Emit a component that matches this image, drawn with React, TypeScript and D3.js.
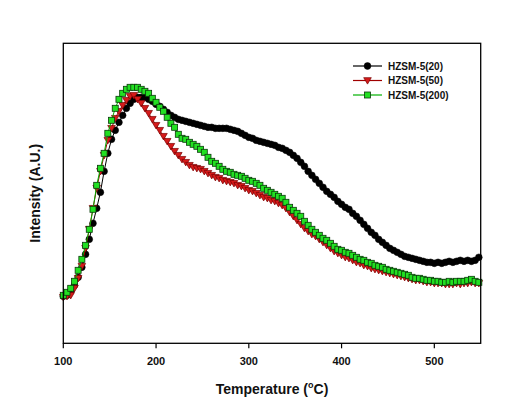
import React, { useEffect, useRef } from "react";
import * as d3 from "d3";

const temperatures: number[] = d3.range(100, 549, 4);

const hzsm20: number[] = [
  47, 48, 52, 58, 66, 76, 89, 104, 120, 135,
  151, 172, 190, 204, 213, 221, 228, 235, 240, 244,
  246, 246, 246, 244, 242, 239, 237, 234, 231, 228,
  226, 224, 223, 222, 221, 220, 219, 218, 217, 216,
  216, 215, 215, 215, 215, 214, 213, 212, 210, 208,
  206, 205, 203, 202, 201, 200, 199, 198, 196, 195,
  193, 191, 188, 185, 181, 177, 172, 168, 164, 160,
  156, 152, 149, 146, 142, 139, 136, 134, 130, 127,
  123, 119, 115, 111, 108, 104, 101, 98, 95, 93,
  91, 89, 87, 86, 85, 84, 83, 82, 81, 81,
  80, 81, 80, 81, 82, 81, 82, 83, 82, 83,
  82, 83, 86,
];

const hzsm50: number[] = [
  46, 47, 48, 55, 65, 77, 95, 114, 135, 155,
  172, 188, 203, 215, 225, 232, 238, 243, 247, 248,
  244, 240, 235, 230, 224, 218, 213, 207, 202, 197,
  192, 188, 184, 181, 178, 176, 175, 174, 172, 170,
  168, 166, 165, 163, 162, 161, 160, 158, 157, 155,
  153, 152, 150, 148, 146, 145, 143, 142, 140, 138,
  135, 131, 127, 123, 119, 115, 112, 109, 107, 104,
  101, 98, 95, 92, 90, 88, 86, 85, 83, 81,
  80, 78, 77, 75, 74, 73, 72, 71, 70, 69,
  68, 67, 66, 65, 64, 63, 63, 62, 61, 61,
  60, 60, 60, 59, 59, 59, 60, 59, 60, 60,
  61, 60, 60,
];

const hzsm200: number[] = [
  48, 51, 55, 62, 73, 84, 98, 114, 134, 158,
  175, 190, 210, 223, 235, 244, 250, 254, 256, 256,
  256, 254, 252, 250, 245, 241, 236, 232, 226, 220,
  216, 209, 205, 204, 201, 199, 197, 194, 191, 186,
  182, 180, 177, 174, 172, 171, 169, 168, 167, 165,
  163, 162, 160, 158, 155, 153, 151, 149, 147, 145,
  141, 136, 133, 130, 127, 122, 118, 114, 111, 108,
  105, 103, 100, 97, 94, 93, 91, 90, 88, 86,
  84, 83, 81, 80, 78, 77, 76, 74, 73, 72,
  71, 70, 69, 68, 66, 65, 65, 64, 63, 63,
  62, 62, 61, 61, 62, 61, 62, 62, 62, 63,
  64, 62, 61,
];

const seriesNames: string[] = ["HZSM-5(20)", "HZSM-5(50)", "HZSM-5(200)"];
const xTicks: number[] = [100, 200, 300, 400, 500];

const W = 515;
const H = 404;
const M = { left: 63.3, right: 480.7, top: 43.3, bottom: 343.3 };
const FONT = "Arial, 'Liberation Sans', sans-serif";

export default function App() {
  const ref = useRef<SVGSVGElement | null>(null);

  useEffect(() => {
    const svg = d3.select(ref.current);
    svg.selectAll("*").remove();

    const x = d3.scaleLinear().domain([100, 550]).range([M.left, M.right]);
    const y = d3.scaleLinear().domain([0, 300]).range([M.bottom, M.top]);

    const styles = [
      { line: "#000000", fill: "#000000", stroke: "#000000", shape: "circle" },
      { line: "#a00000", fill: "#d41a1a", stroke: "#7a0000", shape: "tri" },
      { line: "#00b000", fill: "#22e022", stroke: "#0a3a0a", shape: "square" },
    ];
    const data = [hzsm20, hzsm50, hzsm200];

    const drawMarker = (g: any, shape: string, cx: number, cy: number, st: any) => {
      if (shape === "circle") {
        g.append("circle").attr("cx", cx).attr("cy", cy).attr("r", 3.4)
          .attr("fill", st.fill).attr("stroke", st.stroke).attr("stroke-width", 0.5);
      } else if (shape === "tri") {
        const s = 3.8;
        g.append("path")
          .attr("d", `M${cx - s},${cy - s * 0.75}L${cx + s},${cy - s * 0.75}L${cx},${cy + s * 0.95}Z`)
          .attr("fill", st.fill).attr("stroke", st.stroke).attr("stroke-width", 0.7);
      } else {
        const s = 3;
        g.append("rect").attr("x", cx - s).attr("y", cy - s).attr("width", 2 * s).attr("height", 2 * s)
          .attr("fill", st.fill).attr("stroke", st.stroke).attr("stroke-width", 0.8);
      }
    };

    const line = d3.line<number>().x((_, i) => x(temperatures[i])).y((d) => y(d));

    data.forEach((vals, si) => {
      const st = styles[si];
      const g = svg.append("g");
      g.append("path").attr("d", line(vals) as string).attr("fill", "none")
        .attr("stroke", st.line).attr("stroke-width", 1);
      vals.forEach((v, i) => drawMarker(g, st.shape, x(temperatures[i]), y(v), st));
    });

    // frame
    svg.append("rect").attr("x", M.left).attr("y", M.top)
      .attr("width", M.right - M.left).attr("height", M.bottom - M.top)
      .attr("fill", "none").attr("stroke", "#000").attr("stroke-width", 1.3);

    // x axis ticks
    const ax = svg.append("g");
    xTicks.forEach((t) => {
      ax.append("line").attr("x1", x(t)).attr("x2", x(t)).attr("y1", M.bottom).attr("y2", M.bottom + 5)
        .attr("stroke", "#000").attr("stroke-width", 1.2);
      ax.append("text").attr("x", x(t)).attr("y", 365).attr("text-anchor", "middle")
        .attr("font-family", FONT).attr("font-weight", "bold").attr("font-size", 11).attr("fill", "#111")
        .text(String(t));
    });

    // axis titles
    const xt = svg.append("text").attr("x", (M.left + M.right) / 2).attr("y", 394)
      .attr("text-anchor", "middle").attr("font-family", FONT).attr("font-weight", "bold")
      .attr("font-size", 14).attr("fill", "#111");
    xt.append("tspan").text("Temperature (");
    xt.append("tspan").attr("font-size", 9).attr("dy", -6).text("o");
    xt.append("tspan").attr("dy", 6).text("C)");

    svg.append("text").attr("transform", `translate(40,${(M.top + M.bottom) / 2}) rotate(-90)`)
      .attr("text-anchor", "middle").attr("font-family", FONT).attr("font-weight", "bold")
      .attr("font-size", 14).attr("fill", "#111").text("Intensity (A.U.)");

    // legend
    const legY = [66, 80.5, 95];
    seriesNames.forEach((name, i) => {
      const st = styles[i];
      const g = svg.append("g");
      g.append("line").attr("x1", 353).attr("x2", 382).attr("y1", legY[i]).attr("y2", legY[i])
        .attr("stroke", st.line).attr("stroke-width", 1.2);
      drawMarker(g, st.shape, 367.5, legY[i], st);
      g.append("text").attr("x", 388).attr("y", legY[i] + 3.8).attr("font-family", FONT)
        .attr("font-weight", "bold").attr("font-size", 10).attr("fill", "#111").text(name);
    });
  }, []);

  return (
    <svg ref={ref} width={W} height={H}
      style={{ position: "absolute", left: 0, top: 0, background: "#fff" }} />
  );
}
